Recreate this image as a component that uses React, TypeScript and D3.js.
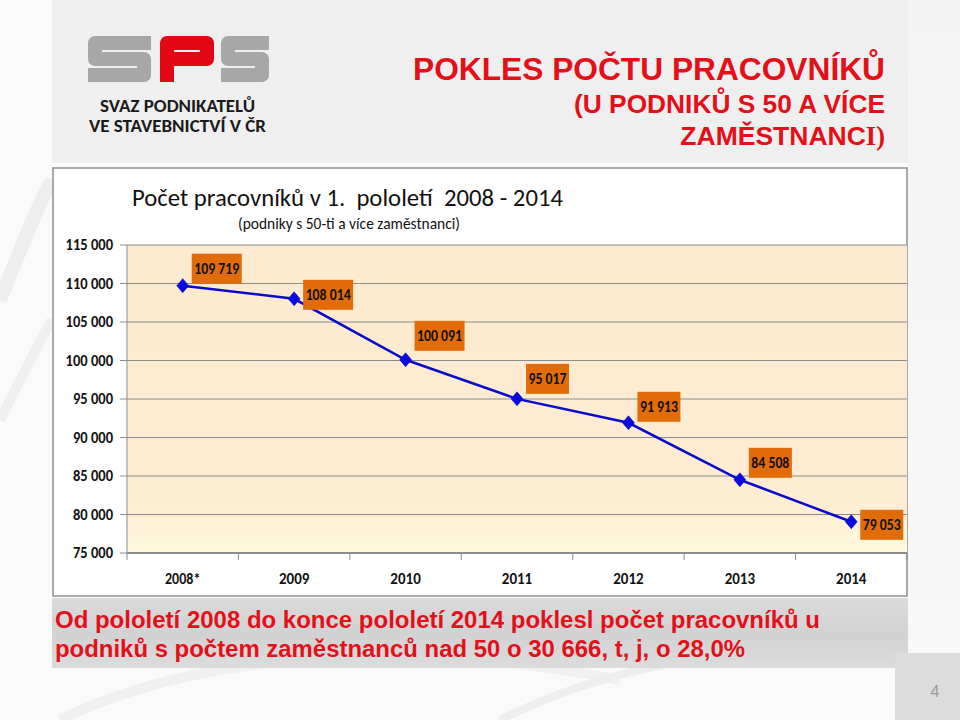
import React from 'react';
import * as d3 from 'd3';

const years = ['2008*', '2009', '2010', '2011', '2012', '2013', '2014'];
const workers = [109719, 108014, 100091, 95017, 91913, 84508, 79053];
const yTicks = [75000, 80000, 85000, 90000, 95000, 100000, 105000, 110000, 115000];
const labelDy = [-17, -4, -24, -20, -16, -17, 3];

const W = 960;
const H = 720;
const plot = { left: 127, right: 907, top: 245, bottom: 553 };
const CAL = 'Carlito, Lato, "Open Sans", sans-serif';
const ARIAL = '"Liberation Sans", Arial, sans-serif';
const RED = '#E3101A';

function sPath(x0: number, y0: number, w: number, h: number, t: number) {
  const h2 = t / 2;
  return `M${x0 + w},${y0 + h2} L${x0 + h2},${y0 + h2} L${x0 + h2},${y0 + h / 2} L${x0 + w - h2},${y0 + h / 2} L${x0 + w - h2},${y0 + h - h2} L${x0},${y0 + h - h2}`;
}
function pPath(x0: number, y0: number, w: number, h: number, t: number) {
  const h2 = t / 2;
  return `M${x0 + h2},${y0 + h} L${x0 + h2},${y0 + h2} L${x0 + w - h2},${y0 + h2} L${x0 + w - h2},${y0 + h / 2} L${x0 + h2},${y0 + h / 2}`;
}
// approximate rendered width of a Calibri-like numeric label
function numWidth(s: string, digit: number, space: number) {
  let w = 0;
  for (const c of s) w += c === '\u00a0' || c === ' ' ? space : c === '*' ? 5 : digit;
  return w;
}

export default function App() {
  const x = d3.scaleBand<string>().domain(years).range([plot.left, plot.right]);
  const y = d3.scaleLinear().domain([75000, 115000]).range([plot.bottom, plot.top]);
  const fmt = d3
    .formatLocale({ decimal: ',', thousands: '\u00a0', grouping: [3], currency: ['', ''] })
    .format(',d');
  const cx = (d: string) => (x(d) as number) + x.bandwidth() / 2;
  const line = d3
    .line<number>()
    .x((_, i) => cx(years[i]))
    .y((d) => y(d));
  const boundaries = years.map((d) => x(d) as number).concat([plot.right]);

  return (
    <svg width={W} height={H} style={{ position: 'absolute', left: 0, top: 0 }}>
      <defs>
        <linearGradient id="plotFill" x1="0" y1="0" x2="0" y2="1">
          <stop offset="0" stopColor="#FDEAD0" />
          <stop offset="0.85" stopColor="#FDEDD2" />
          <stop offset="1" stopColor="#FFFADF" />
        </linearGradient>
        <linearGradient id="band" x1="0" y1="0" x2="0" y2="1">
          <stop offset="0" stopColor="#DADADA" />
          <stop offset="0.5" stopColor="#D2D2D2" />
          <stop offset="1" stopColor="#DCDCDC" />
        </linearGradient>
        <linearGradient id="rightStrip" x1="0" y1="0" x2="0" y2="1">
          <stop offset="0" stopColor="#F4F4F4" />
          <stop offset="1" stopColor="#F8F8F8" />
        </linearGradient>
      </defs>

      {/* page background */}
      <rect x={0} y={0} width={W} height={H} fill="#FAFAFA" />
      <rect x={908} y={0} width={52} height={655} fill="url(#rightStrip)" />
      <path d="M0,300 C20,250 40,200 52,180" stroke="#EEEEEE" strokeWidth={14} fill="none" />
      <path d="M0,420 C20,380 40,340 52,320" stroke="#EFEFEF" strokeWidth={10} fill="none" />
      <path d="M60,720 C200,650 420,640 620,680" stroke="#F0F0F0" strokeWidth={10} fill="none" />
      <path d="M500,720 C620,660 760,640 900,660" stroke="#EEEEEE" strokeWidth={8} fill="none" />

      {/* header panel */}
      <rect x={52} y={0} width={856} height={163} fill="#EFEFEF" />

      {/* logo */}
      <path d={sPath(88, 36, 63, 46, 14)} stroke="#A7A7A7" strokeWidth={14} fill="none" strokeLinejoin="round" />
      <path d={pPath(160, 36, 54, 46, 14)} stroke="#E30613" strokeWidth={14} fill="none" strokeLinejoin="round" />
      <path d={sPath(221, 36, 48, 46, 14)} stroke="#A7A7A7" strokeWidth={14} fill="none" strokeLinejoin="round" />
      <text x={100} y={112} fontFamily={CAL} fontWeight={700} fontSize={18} fill="#1A1A1A" textLength={155} lengthAdjust="spacingAndGlyphs">
        SVAZ PODNIKATELŮ
      </text>
      <text x={89} y={132} fontFamily={CAL} fontWeight={700} fontSize={18} fill="#1A1A1A" textLength={177} lengthAdjust="spacingAndGlyphs">
        VE STAVEBNICTVÍ V ČR
      </text>

      {/* title */}
      <text x={885} y={80} textAnchor="end" fontFamily={ARIAL} fontWeight={700} fontSize={31} fill={RED} textLength={472} lengthAdjust="spacingAndGlyphs">
        POKLES POČTU PRACOVNÍKŮ
      </text>
      <text x={885} y={113} textAnchor="end" fontFamily={ARIAL} fontWeight={700} fontSize={26.5} fill={RED} textLength={311} lengthAdjust="spacingAndGlyphs">
        (U PODNIKŮ S 50 A VÍCE
      </text>
      <text x={885} y={145} textAnchor="end" fontFamily={ARIAL} fontWeight={700} fontSize={26.5} fill={RED}>
        ZAMĚSTNANC
        <tspan fontFamily='"Liberation Serif", "Times New Roman", serif'>I)</tspan>
      </text>

      {/* chart box */}
      <rect x={53} y={168} width={854} height={428} fill="#FFFFFF" stroke="#8E8E8E" strokeWidth={1.5} />

      {/* plot area */}
      <rect x={plot.left} y={plot.top} width={plot.right - plot.left} height={plot.bottom - plot.top} fill="url(#plotFill)" />
      {yTicks.map((t) => {
        const s = fmt(t);
        return (
          <g key={t}>
            <line x1={plot.left} x2={plot.right} y1={y(t)} y2={y(t)} stroke="#8C8C8C" strokeWidth={1} />
            <line x1={plot.left - 7} x2={plot.left} y1={y(t)} y2={y(t)} stroke="#8C8C8C" strokeWidth={1} />
            <text x={113} y={y(t) + 5} textAnchor="end" fontFamily={CAL} fontWeight={700} fontSize={15.5} fill="#111" textLength={numWidth(s, 7.4, 3)} lengthAdjust="spacingAndGlyphs">
              {s}
            </text>
          </g>
        );
      })}
      <line x1={plot.left} x2={plot.left} y1={plot.top} y2={plot.bottom} stroke="#8C8C8C" strokeWidth={1} />
      <line x1={plot.left} x2={plot.right} y1={plot.bottom} y2={plot.bottom} stroke="#8C8C8C" strokeWidth={2} />
      {boundaries.map((b, i) => (
        <line key={i} x1={b} x2={b} y1={plot.bottom} y2={plot.bottom + 7} stroke="#8C8C8C" strokeWidth={1} />
      ))}
      {years.map((d) => (
        <text key={d} x={cx(d)} y={584} textAnchor="middle" fontFamily={CAL} fontWeight={700} fontSize={15.5} fill="#111" textLength={numWidth(d, 7.6, 3)} lengthAdjust="spacingAndGlyphs">
          {d}
        </text>
      ))}

      {/* chart titles */}
      <text x={132} y={206} fontFamily={CAL} fontWeight={400} fontSize={25} fill="#111" textLength={431} lengthAdjust="spacingAndGlyphs">
        Počet pracovníků v 1.&#160; pololetí&#160; 2008 - 2014
      </text>
      <text x={238} y={229} fontFamily={CAL} fontWeight={400} fontSize={15.5} fill="#111" textLength={222} lengthAdjust="spacingAndGlyphs">
        (podniky s 50-ti a více zaměstnanci)
      </text>

      {/* series */}
      <path d={line(workers) || ''} fill="none" stroke="#0A0ACC" strokeWidth={2.5} />
      {workers.map((v, i) => (
        <path
          key={i}
          transform={`translate(${cx(years[i])},${y(v)})`}
          d="M0,-7 L6,0 L0,7 L-6,0 Z"
          fill="#0A0AE0"
          stroke="#0000B0"
          strokeWidth={0.5}
        />
      ))}
      {workers.map((v, i) => {
        const s = fmt(v);
        const tw = numWidth(s, 7, 3);
        const bw = tw + 5;
        const bx = cx(years[i]) + 9;
        const by = y(v) + labelDy[i];
        return (
          <g key={'l' + i}>
            <rect x={bx} y={by - 15} width={bw} height={30} fill="#E26B0A" />
            <text x={bx + bw / 2} y={by + 5} textAnchor="middle" fontFamily={CAL} fontWeight={700} fontSize={15} fill="#111" textLength={tw} lengthAdjust="spacingAndGlyphs">
              {s}
            </text>
          </g>
        );
      })}

      {/* bottom note */}
      <rect x={52} y={598} width={856} height={70} fill="url(#band)" />
      <text x={55} y={628} fontFamily={ARIAL} fontWeight={700} fontSize={23} fill={RED} textLength={765} lengthAdjust="spacingAndGlyphs">
        Od pololetí 2008 do konce pololetí 2014 poklesl počet pracovníků u
      </text>
      <text x={55} y={657} fontFamily={ARIAL} fontWeight={700} fontSize={23} fill={RED} textLength={690} lengthAdjust="spacingAndGlyphs">
        podniků s počtem zaměstnanců nad 50 o 30 666, t, j, o 28,0%
      </text>

      {/* page number */}
      <rect x={895} y={653} width={65} height={67} fill="#DCDCDC" />
      <text x={935} y={697} textAnchor="middle" fontFamily={ARIAL} fontSize={16} fill="#9A9A9A">
        4
      </text>
    </svg>
  );
}
